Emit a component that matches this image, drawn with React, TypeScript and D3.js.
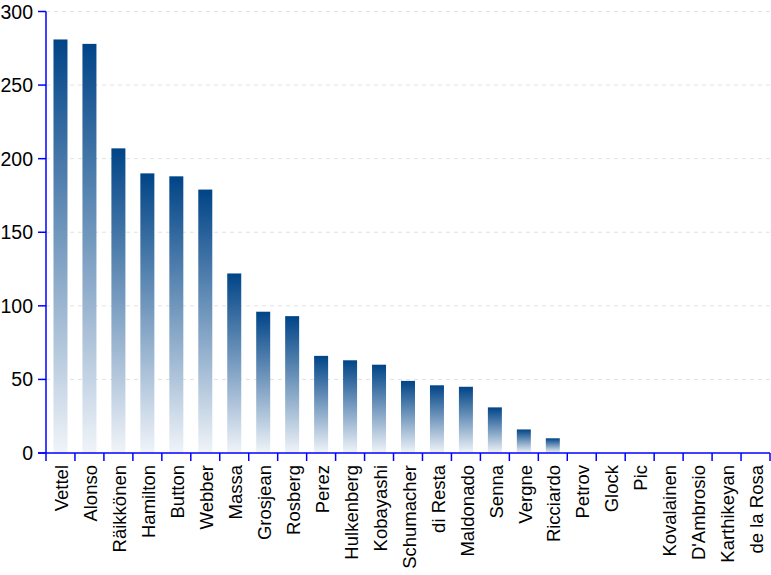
import React, { useEffect, useRef } from 'react';
import * as d3 from 'd3';

const drivers = [
  'Vettel', 'Alonso', 'Räikkönen', 'Hamilton', 'Button', 'Webber', 'Massa',
  'Grosjean', 'Rosberg', 'Perez', 'Hulkenberg', 'Kobayashi', 'Schumacher',
  'di Resta', 'Maldonado', 'Senna', 'Vergne', 'Ricciardo', 'Petrov', 'Glock',
  'Pic', 'Kovalainen', "D'Ambrosio", 'Karthikeyan', 'de la Rosa',
];
const points = [
  281, 278, 207, 190, 188, 179, 122, 96, 93, 66, 63, 60, 49, 46, 45, 31, 16,
  10, 0, 0, 0, 0, 0, 0, 0,
];
const yTicks = [0, 50, 100, 150, 200, 250, 300];

const W = 771;
const H = 575;
const font = "'Liberation Sans', Arial, sans-serif";

export default function App() {
  const ref = useRef<SVGSVGElement>(null);

  useEffect(() => {
    const svg = d3.select(ref.current);
    svg.selectAll('*').remove();

    const left = 46, right = 770, top = 11.5, bottom = 453;

    const x = d3.scaleBand().domain(drivers).range([left, right]);
    const y = d3.scaleLinear().domain([0, 300]).range([bottom, top]);

    const defs = svg.append('defs');
    const grad = defs
      .append('linearGradient')
      .attr('id', 'barGrad')
      .attr('x1', 0).attr('y1', 0).attr('x2', 0).attr('y2', 1);
    grad.append('stop').attr('offset', '0%').attr('stop-color', '#004487');
    grad.append('stop').attr('offset', '100%').attr('stop-color', '#f0f4f9');

    // grid
    svg
      .append('g')
      .selectAll('line')
      .data(yTicks.filter(d => d > 0))
      .enter()
      .append('line')
      .attr('x1', left)
      .attr('x2', right)
      .attr('y1', d => y(d))
      .attr('y2', d => y(d))
      .attr('stroke', '#e2e2e2')
      .attr('stroke-dasharray', '4,4');

    // bars
    const bw = 14;
    svg
      .append('g')
      .selectAll('rect')
      .data(drivers.map((d, i) => ({ name: d, value: points[i] })).filter(d => d.value > 0))
      .enter()
      .append('rect')
      .attr('x', d => x(d.name)! + x.bandwidth() / 2 - bw / 2)
      .attr('y', d => y(d.value))
      .attr('width', bw)
      .attr('height', d => bottom - y(d.value))
      .attr('fill', 'url(#barGrad)');

    // y axis
    const ya = svg.append('g');
    ya.append('line')
      .attr('x1', left).attr('x2', left)
      .attr('y1', top).attr('y2', bottom)
      .attr('stroke', '#0000ff').attr('stroke-width', 1.5);
    ya.selectAll('line.tick')
      .data(yTicks)
      .enter()
      .append('line')
      .attr('class', 'tick')
      .attr('x1', left - 8).attr('x2', left)
      .attr('y1', d => y(d)).attr('y2', d => y(d))
      .attr('stroke', '#0000ff').attr('stroke-width', 1.5);
    ya.selectAll('text')
      .data(yTicks)
      .enter()
      .append('text')
      .attr('x', 33)
      .attr('y', d => y(d))
      .attr('dy', '0.36em')
      .attr('text-anchor', 'end')
      .attr('font-family', font)
      .attr('font-size', 19.5)
      .attr('fill', '#000')
      .text(d => d);

    // x axis
    const xa = svg.append('g');
    xa.append('line')
      .attr('x1', left - 8).attr('x2', right)
      .attr('y1', bottom).attr('y2', bottom)
      .attr('stroke', '#0000ff').attr('stroke-width', 1.5);
    xa.selectAll('line.tick')
      .data([...drivers.map(d => x(d)!), right])
      .enter()
      .append('line')
      .attr('class', 'tick')
      .attr('x1', d => d).attr('x2', d => d)
      .attr('y1', bottom).attr('y2', bottom + 8)
      .attr('stroke', '#0000ff').attr('stroke-width', 1.5);
    xa.selectAll('text')
      .data(drivers)
      .enter()
      .append('text')
      .attr('transform', d => `translate(${x(d)! + x.bandwidth() / 2 + 1},${bottom + 12}) rotate(-90)`)
      .attr('dy', '0.36em')
      .attr('text-anchor', 'end')
      .attr('font-family', font)
      .attr('font-size', 18.5)
      .attr('fill', '#000')
      .text(d => d);
  }, []);

  return (
    <svg
      ref={ref}
      width={W}
      height={H}
      style={{ position: 'absolute', left: 0, top: 0, background: '#fff' }}
    />
  );
}
